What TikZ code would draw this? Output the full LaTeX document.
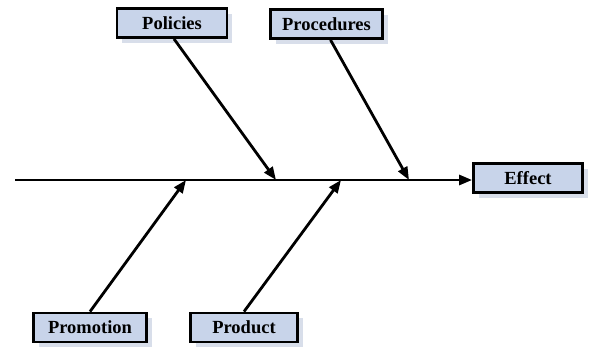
\documentclass[tikz,border=0pt]{standalone}
\usepackage{fontspec}
\setmainfont{Liberation Serif}
\usetikzlibrary{arrows.meta,shadows}
\definecolor{boxfill}{HTML}{C8D4EA}
\definecolor{shadowc}{HTML}{D8DEEA}
\tikzset{
  cause/.style={draw=black, line width=2.8pt, fill=boxfill, font=\bfseries\fontsize{18.5}{20}\selectfont,
    minimum height=29pt, inner sep=0pt, drop shadow={shadow xshift=5pt, shadow yshift=-5pt, fill=shadowc, opacity=1}},
  arr/.style={line width=2.8pt, -{Triangle[length=13pt,width=10pt]}}
}
\begin{document}
\begin{tikzpicture}[x=1pt,y=-1pt]
\useasboundingbox (0,0) rectangle (589,346);
\node[cause, minimum width=110pt] (pol) at (172,23) {Policies};
\node[cause, minimum width=112pt] (proc) at (326.5,24) {Procedures};
\node[cause, minimum width=109pt] (eff) at (528,178) {Effect};
\node[cause, minimum width=113pt] (prom) at (90,327.5) {Promotion};
\node[cause, minimum width=107pt] (prod) at (244,327.5) {Product};
\coordinate (start) at (15,180);
\coordinate (p1) at (276,180);
\coordinate (p2) at (409,180);
\coordinate (p3) at (186,180);
\coordinate (p4) at (341,180);
\draw[arr] (start) -- (eff.west |- start);
\draw[arr] (pol.south) ++(2,0) coordinate (a1) (a1) -- (p1);
\draw[arr] (proc.south) ++(4,0) coordinate (a2) (a2) -- (p2);
\draw[arr] (prom.north) -- (p3);
\draw[arr] (prod.north) -- (p4);
\end{tikzpicture}
\end{document}
